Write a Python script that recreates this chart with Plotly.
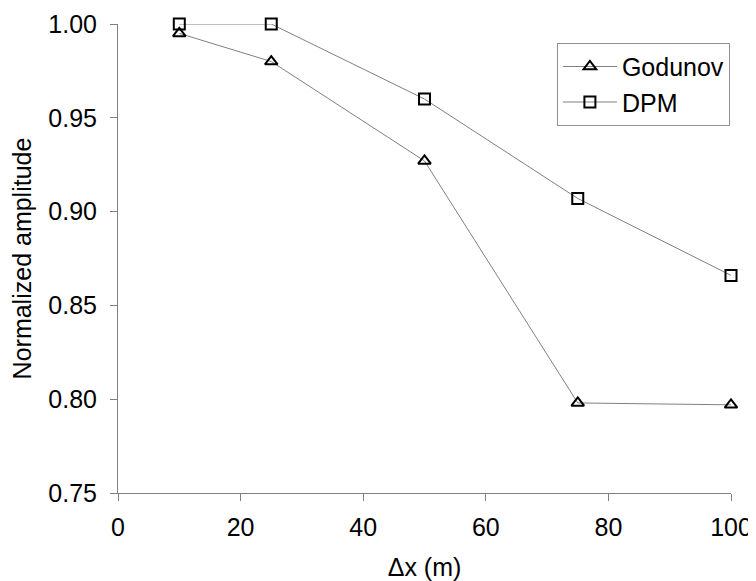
import plotly.graph_objects as go

dx = [10, 25, 50, 75, 100]
godunov = [0.995, 0.980, 0.927, 0.798, 0.797]
dpm = [1.000, 1.000, 0.960, 0.907, 0.866]
y_ticks = [0.75, 0.80, 0.85, 0.90, 0.95, 1.00]
x_ticks = [0, 20, 40, 60, 80, 100]

FONT = "Liberation Sans, Arial, sans-serif"

fig = go.Figure()
fig.add_trace(go.Scatter(
    x=dx, y=godunov, name="Godunov", mode="lines+markers", cliponaxis=False,
    line=dict(color="#808080", width=1),
    marker=dict(symbol="triangle-up-open", size=11, color="black",
                line=dict(color="black", width=2)),
))
fig.add_trace(go.Scatter(
    x=dx, y=dpm, name="DPM", mode="lines+markers", cliponaxis=False,
    line=dict(color="#808080", width=1),
    marker=dict(symbol="square-open", size=11, color="black",
                line=dict(color="black", width=2)),
))

# the page body adds an 8px offset, so the figure is 748x573
fig.update_layout(
    width=748, height=573,
    margin=dict(l=110, r=25, t=16, b=88, autoexpand=False),
    paper_bgcolor="white", plot_bgcolor="white",
    font=dict(family=FONT, size=25, color="black"),
    showlegend=True,
    legend=dict(
        x=0.716, y=0.96, xanchor="left", yanchor="top",
        bordercolor="#909090", borderwidth=1, bgcolor="white",
        font=dict(size=25, family=FONT, color="black"),
        itemwidth=54, tracegroupgap=0,
    ),
    xaxis=dict(
        range=[0, 100], tickvals=x_ticks, ticks="outside", ticklen=7,
        tickcolor="#808080", showline=True, linecolor="#808080", linewidth=1,
        showgrid=False, zeroline=False, automargin=False, ticklabelstandoff=5,
        title=dict(text="Δx (m)", font=dict(size=25), standoff=22),
        tickfont=dict(size=25),
    ),
    yaxis=dict(
        range=[0.75, 1.0], tickvals=y_ticks, tickformat=".2f", ticks="outside",
        ticklen=7, tickcolor="#808080", showline=True, linecolor="#808080",
        linewidth=1, showgrid=False, zeroline=False, automargin=False,
        ticklabelstandoff=8,
        title=dict(text="Normalized amplitude", font=dict(size=25), standoff=16),
        tickfont=dict(size=25),
    ),
)

fig.write_html("out.html")
